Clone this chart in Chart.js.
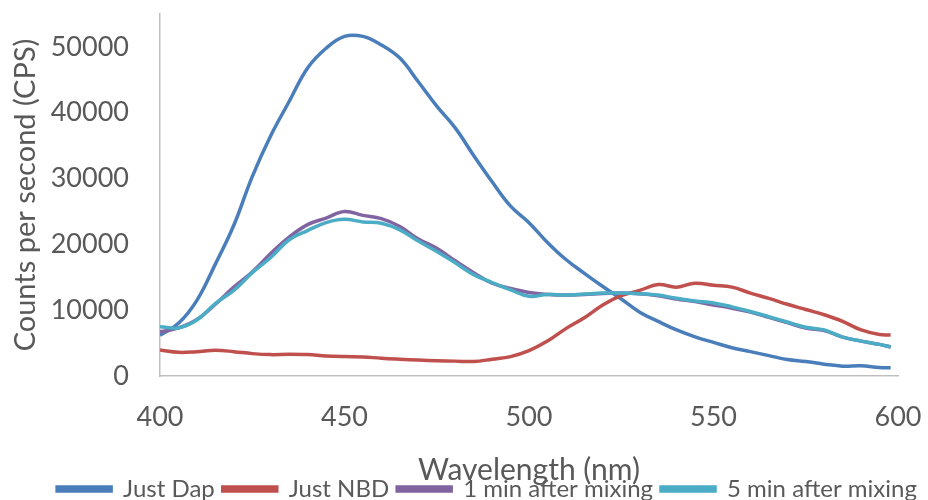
<!DOCTYPE html>
<html>
<head>
<meta charset="utf-8">
<script src="https://cdn.jsdelivr.net/npm/chart.js@4/dist/chart.umd.min.js"></script>
<style>
  html, body { margin: 0; padding: 0; background: #fff; }
  #wrap { width: 928px; height: 500px; overflow: hidden; }
</style>
</head>
<body>
<div id="wrap"><canvas id="c" width="928" height="511"></canvas></div>
<script>
// emission spectra, every 5 nm
const wavelengths = [400, 405, 410, 415, 420, 425, 430, 435, 440, 445, 450, 455, 460, 465, 470, 475, 480, 485, 490, 495,
  500, 505, 510, 515, 520, 525, 530, 535, 540, 545, 550, 555, 560, 565, 570, 575, 580, 585, 590, 595, 598];

const justDap = [6200, 8000, 11500, 17000, 22900, 30300, 36500, 41700, 46800, 49800, 51600, 51600, 50300, 48300, 44700, 41000, 37700, 33500, 29500, 25800,
  23300, 20300, 17700, 15600, 13600, 11700, 9700, 8300, 7000, 5950, 5100, 4300, 3700, 3100, 2500, 2200, 1800, 1500, 1550, 1300, 1250];

const justNBD = [3950, 3600, 3700, 3900, 3700, 3400, 3250, 3300, 3250, 3050, 2950, 2900, 2700, 2550, 2420, 2330, 2260, 2200, 2550, 2950,
  3850, 5300, 7200, 8850, 10800, 12200, 13000, 13900, 13500, 14100, 13800, 13500, 12600, 11800, 10900, 10100, 9300, 8300, 7000, 6300, 6230];

const oneMin = [6700, 7300, 8600, 10900, 13500, 15800, 18600, 21100, 23000, 24000, 25000, 24400, 23900, 22700, 20800, 19400, 17500, 15700, 14100, 13300,
  12700, 12400, 12300, 12400, 12550, 12600, 12500, 12200, 11700, 11300, 10800, 10300, 9700, 8900, 8100, 7300, 6900, 5900, 5300, 4800, 4400];

const fiveMin = [7500, 7300, 8500, 11000, 13000, 15700, 18000, 20700, 22100, 23300, 23800, 23400, 23200, 22200, 20500, 18900, 17200, 15400, 14200, 13100,
  12100, 12400, 12300, 12450, 12600, 12600, 12500, 12300, 11800, 11400, 11100, 10500, 9800, 9000, 8200, 7400, 7000, 5900, 5300, 4800, 4400];

const seriesNames = ['Just Dap', 'Just NBD', '1 min after mixing', '5 min after mixing'];
const seriesColors = ['#4a7ebb', '#c0504d', '#8064a2', '#4bacc6'];
const xTicks = [400, 450, 500, 550, 600];
const yTicks = [0, 10000, 20000, 30000, 40000, 50000];

const textColor = '#595959';
const FONT = 'Lato';

const toPoints = vals => wavelengths.map((w, i) => ({ x: w, y: vals[i] }));

const datasets = [justDap, justNBD, oneMin, fiveMin].map((vals, i) => ({
  label: seriesNames[i],
  data: toPoints(vals),
  borderColor: seriesColors[i],
  backgroundColor: seriesColors[i],
  borderWidth: 3.5,
  pointRadius: 0,
  tension: 0.4,
  order: 4 - i   // later series drawn on top, like the original
}));

new Chart(document.getElementById('c'), {
  type: 'line',
  data: { datasets },
  options: {
    responsive: false,
    animation: false,
    devicePixelRatio: 1,
    // left padding only shifts the legend row to the right, the y axis makes up for it
    layout: { padding: { top: 14, right: 0, left: 46, bottom: 0 } },
    plugins: {
      tooltip: { enabled: false },
      legend: {
        position: 'bottom',
        labels: {
          color: textColor,
          font: { family: FONT, size: 24 },
          boxWidth: 54,
          boxHeight: 4,
          padding: 8,
          sort: (a, b) => a.datasetIndex - b.datasetIndex
        }
      }
    },
    scales: {
      x: {
        type: 'linear',
        min: 400,
        max: 600,
        afterBuildTicks: s => { s.ticks = xTicks.map(v => ({ value: v })); },
        afterFit: s => { s.height = 93; s.paddingLeft = 0; s.paddingRight = 30; },
        grid: { display: false, drawTicks: false },
        border: { display: true, color: '#bfbfbf', width: 1.5 },
        ticks: { color: textColor, font: { family: FONT, size: 27 }, padding: 25, maxRotation: 0 },
        title: {
          display: true,
          text: 'Wavelength (nm)',
          color: textColor,
          font: { family: FONT, size: 30 },
          padding: { top: 0, bottom: -19 }
        }
      },
      y: {
        min: 0,
        max: 55000,
        afterBuildTicks: s => { s.ticks = yTicks.map(v => ({ value: v })); },
        afterFit: s => { s.width = 114; s.paddingTop = 0; s.paddingBottom = 0; },
        grid: { display: false, drawTicks: false },
        border: { display: true, color: '#bfbfbf', width: 1.5 },
        ticks: {
          color: textColor,
          font: { family: FONT, size: 27 },
          padding: 31,
          callback: v => String(v)
        },
        title: {
          display: true,
          text: 'Counts per second (CPS)',
          color: textColor,
          font: { family: FONT, size: 29 },
          padding: { top: -38, bottom: 0 }
        }
      }
    }
  }
});
</script>
</body>
</html>
